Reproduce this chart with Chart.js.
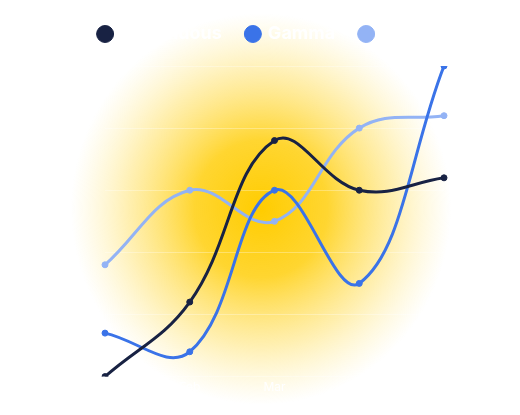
<!DOCTYPE html>
<html>
<head>
<meta charset="utf-8">
<script src="https://cdn.jsdelivr.net/npm/chart.js@4/dist/chart.umd.min.js"></script>
<style>
  body { margin: 0; background: #fff; }
  #wrap { width: 520px; height: 415px; }
</style>
</head>
<body>
<div id="wrap"><canvas id="chart"></canvas></div>
<script>
// ---- data ----
const labels = ["Jan", "Feb", "Mar", "Apr", "May"];
const seriesNames = ["Continuous", "Gamma", "Beta"];
const darkValues = [0, 24, 76, 60, 64];
const blueValues = [14, 8, 60, 30, 100];
const lightValues = [36, 60, 50, 80, 84];
const yTicks = [0, 20, 40, 60, 80, 100];

const colors = ["#182243", "#3a73e8", "#93b3f5"];

// yellow glow behind the lines (slightly taller than wide)
const glow = {
  id: "glow",
  beforeDraw(chart) {
    const ctx = chart.ctx;
    const cx = 261, cy = 209, r = 190, stretch = 1.03;
    ctx.save();
    ctx.translate(cx, cy);
    ctx.scale(1, stretch);
    const g = ctx.createRadialGradient(0, 0, 0, 0, 0, r);
    g.addColorStop(0, "rgba(255,204,0,1)");
    g.addColorStop(0.35, "rgba(255,208,20,0.88)");
    g.addColorStop(0.7, "rgba(255,218,70,0.42)");
    g.addColorStop(1, "rgba(255,230,120,0)");
    ctx.fillStyle = g;
    ctx.fillRect(-cx, -cy / stretch, chart.width, chart.height / stretch);
    ctx.restore();
  }
};

// give the legend a fixed height so the plot starts lower
const legendHeight = {
  id: "legendHeight",
  beforeInit(chart) {
    const fit = chart.legend.fit;
    chart.legend.fit = function () {
      fit.bind(chart.legend)();
      this.height = 66;
    };
  }
};

function makeSet(name, data, color) {
  return {
    label: name,
    data: data,
    borderColor: color,
    backgroundColor: color,
    borderWidth: 3,
    pointRadius: 3,
    pointBorderWidth: 1,
    pointHoverRadius: 5,
    tension: 0.4,
    fill: false
  };
}

new Chart(document.getElementById("chart"), {
  type: "line",
  data: {
    labels: labels,
    datasets: [
      makeSet(seriesNames[0], darkValues, colors[0]),
      makeSet(seriesNames[1], blueValues, colors[1]),
      makeSet(seriesNames[2], lightValues, colors[2])
    ]
  },
  options: {
    responsive: true,
    maintainAspectRatio: false,
    animation: false,
    layout: { padding: { left: 0, right: 0, top: 0, bottom: 16 } },
    plugins: {
      tooltip: { enabled: false },
      legend: {
        position: "top",
        labels: {
          usePointStyle: true,
          pointStyle: "circle",
          boxWidth: 12,
          boxHeight: 12,
          padding: 25,
          color: "#ffffff",
          font: { family: "Inter", size: 18, weight: "bold" }
        }
      }
    },
    scales: {
      x: {
        grid: { display: false, drawTicks: false },
        border: { display: false },
        ticks: { color: "#ffffff", padding: 4, font: { family: "Inter", size: 12 } }
      },
      y: {
        min: yTicks[0],
        max: yTicks[yTicks.length - 1],
        afterBuildTicks(scale) { scale.ticks = yTicks.map(v => ({ value: v })); },
        afterFit(scale) { scale.width = 105; },
        ticks: { display: false },
        border: { display: false },
        grid: { color: "rgba(255,255,255,0.3)", lineWidth: 1, drawTicks: false }
      },
      y2: {
        position: "right",
        display: true,
        afterFit(scale) { scale.width = 76; },
        ticks: { display: false },
        border: { display: false },
        grid: { display: false, drawTicks: false }
      }
    }
  },
  plugins: [glow, legendHeight]
});
</script>
</body>
</html>
